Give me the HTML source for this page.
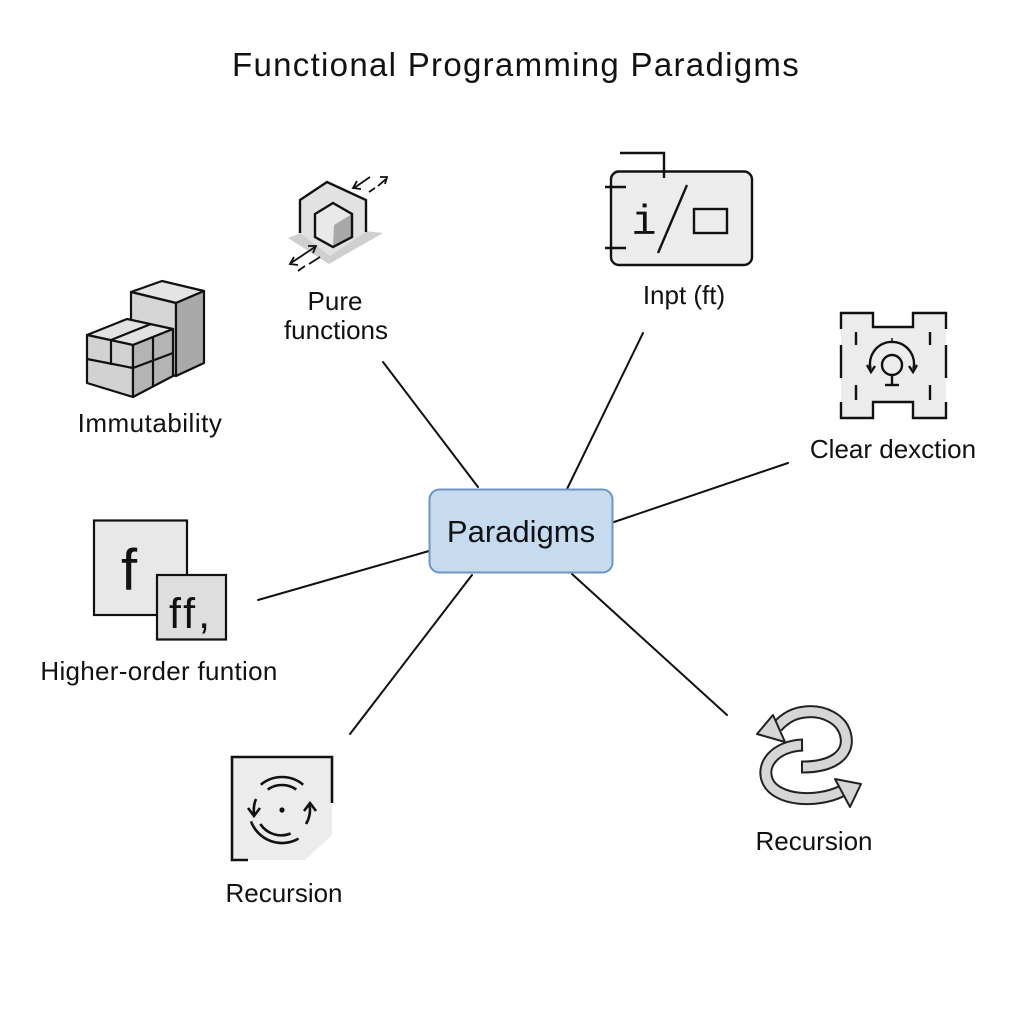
<!DOCTYPE html>
<html>
<head>
<meta charset="utf-8">
<style>
  html, body { margin:0; padding:0; background:#ffffff; }
  body { width:1024px; height:1024px; overflow:hidden; }
  svg { display:block; }
  text { font-family: "Liberation Sans", "DejaVu Sans", sans-serif; fill:#111; font-variant-ligatures: none; font-feature-settings: "liga" 0; }
</style>
</head>
<body>
<svg width="1024" height="1024" viewBox="0 0 1024 1024" xmlns="http://www.w3.org/2000/svg">
  <rect x="0" y="0" width="1024" height="1024" fill="#ffffff"/>

  <!-- Title -->
  <text x="516" y="76" font-size="33" text-anchor="middle" letter-spacing="1.3">Functional Programming Paradigms</text>

  <!-- Connectors -->
  <g stroke="#111" stroke-width="2" fill="none" stroke-linecap="round">
    <line x1="383" y1="362" x2="478" y2="487"/>
    <line x1="643" y1="333" x2="567" y2="489"/>
    <line x1="788" y1="463" x2="614" y2="522"/>
    <line x1="258" y1="600" x2="429" y2="551"/>
    <line x1="350" y1="734" x2="472" y2="575"/>
    <line x1="727" y1="715" x2="572" y2="574"/>
  </g>

  <!-- Central node -->
  <rect x="429.5" y="489.5" width="183" height="83" rx="10" ry="10" fill="#c6dbf0" stroke="#6f96c3" stroke-width="2"/>
  <text x="521" y="542" font-size="31" text-anchor="middle">Paradigms</text>

  <!-- Immutability icon -->
  <g stroke="#111" stroke-width="2.2" stroke-linejoin="round">
    <polygon points="131,292 162,281 204,291 176,303" fill="#e4e4e4"/>
    <polygon points="131,292 176,303 176,376 131,365" fill="#d6d6d6"/>
    <polygon points="176,303 204,291 204,363 176,376" fill="#a9a9a9"/>
    <polygon points="87,335 127,319 173,329 133,345" fill="#e2e2e2"/>
    <polygon points="87,335 133,345 133,397 87,383" fill="#d2d2d2"/>
    <polygon points="133,345 173,329 173,376 133,397" fill="#b4b4b4"/>
    <line x1="111" y1="340" x2="151" y2="324" fill="none"/>
    <line x1="111" y1="340" x2="111" y2="365" fill="none"/>
    <line x1="87" y1="359" x2="133" y2="368" fill="none"/>
    <line x1="133" y1="368" x2="173" y2="353" fill="none"/>
    <line x1="153" y1="337" x2="153" y2="387" fill="none"/>
  </g>
  <text x="150" y="432" font-size="26" text-anchor="middle" letter-spacing="0.5">Immutability</text>

  <!-- Pure functions icon -->
  <g>
    <polygon points="288,238 318,226 383,233 329,264" fill="#cfcfcf"/>
    <polygon points="300,233 300,200 327,182 366,200 366,232 330,256" fill="#e2e2e2"/>
    <polyline points="300,233 300,200 327,182 366,200 366,232" fill="none" stroke="#111" stroke-width="2.4" stroke-linejoin="miter"/>
    <polygon points="333,203 352,214 352,237 333,247 315,237 315,214" fill="#e9e9e9"/>
    <polygon points="334,225 352,214 352,237 333,247" fill="#a9a9a9"/>
    <polygon points="333,203 352,214 352,237 333,247 315,237 315,214" fill="none" stroke="#111" stroke-width="2.4"/>
    <g stroke="#111" stroke-width="1.8" fill="none">
      <line x1="354" y1="188" x2="370" y2="177"/>
      <polyline points="357,181 353,188 361,189"/>
      <line x1="369" y1="192" x2="375" y2="188"/>
      <line x1="378" y1="186" x2="386" y2="179"/>
      <polyline points="380,177 387,177 385,184"/>
      <line x1="291" y1="263" x2="315" y2="247"/>
      <polyline points="294,257 290,264 298,265"/>
      <polyline points="308,246 316,246 313,253"/>
      <line x1="298" y1="271" x2="305" y2="266"/>
      <line x1="309" y1="264" x2="320" y2="257"/>
    </g>
  </g>
  <text x="335" y="310" font-size="26" text-anchor="middle">Pure</text>
  <text x="336" y="339" font-size="26" text-anchor="middle">functions</text>

  <!-- Inpt icon -->
  <g stroke="#111" stroke-width="2.4" fill="none">
    <rect x="611" y="171.5" width="141" height="93.5" rx="8" ry="8" fill="#ececec"/>
    <polyline points="620,153 664,153 664,178"/>
    <line x1="605" y1="187" x2="626" y2="187"/>
    <line x1="605" y1="248" x2="626" y2="248"/>
    <line x1="687" y1="185" x2="658" y2="253"/>
    <rect x="694" y="209" width="33" height="24" fill="none"/>
  </g>
  <text x="644" y="234" font-size="42" text-anchor="middle" style="font-family:'Liberation Mono', monospace;">i</text>
  <text x="684" y="304" font-size="26" text-anchor="middle">Inpt (ft)</text>

  <!-- Clear dexction icon -->
  <g>
    <polygon points="841,313 873,313 873,327 913,327 913,313 946,313 946,418 913,418 913,402 873,402 873,418 841,418" fill="#ececec"/>
    <g stroke="#111" stroke-width="2.4" fill="none">
      <polyline points="841,329 841,313 873,313 873,327 913,327 913,313 946,313 946,329"/>
      <line x1="856" y1="332" x2="856" y2="345"/>
      <line x1="930" y1="332" x2="930" y2="345"/>
      <polyline points="841,345 841,378"/>
      <polyline points="946,345 946,378"/>
      <line x1="856" y1="385" x2="856" y2="400"/>
      <line x1="930" y1="385" x2="930" y2="400"/>
      <polyline points="841,402 841,418 873,418 873,402 913,402 913,418 946,418 946,402"/>
      <circle cx="892" cy="365" r="10"/>
      <line x1="892" y1="375" x2="892" y2="385"/>
      <line x1="885" y1="385" x2="899" y2="385"/>
      <path d="M 870.6,369 A 22 22 0 1 1 913.4,369"/>
      <polyline points="867,365 871,372 875,366"/>
      <polyline points="909,366 913,372 917,365"/>
      <line x1="892" y1="338" x2="892" y2="342" stroke-width="1.5"/>
    </g>
  </g>
  <text x="893" y="458" font-size="26" text-anchor="middle">Clear dexction</text>

  <!-- Higher-order icon -->
  <g stroke="#111" stroke-width="2.2">
    <rect x="94" y="520.5" width="93" height="94.5" fill="#e8e8e8"/>
    <rect x="157" y="575" width="69" height="64.5" fill="#dedede"/>
  </g>
  <text x="129" y="590" font-size="58" text-anchor="middle">f</text>
  <text x="191" y="628" font-size="43" text-anchor="middle" letter-spacing="3">f<tspan>f</tspan>,</text>
  <text x="159" y="680" font-size="26" text-anchor="middle" letter-spacing="0.3">Higher-order funtion</text>

  <!-- Recursion left icon -->
  <g>
    <polygon points="232,757 332,757 332,835 305,860 232,860" fill="#ececec"/>
    <g stroke="#111" stroke-width="2.6" fill="none">
      <polyline points="332,803 332,757 232,757 232,860 248,860"/>
      <path d="M 260.8,784.7 A 33 33 0 0 1 303.2,784.7"/>
      <path d="M 267.7,789.5 A 25 25 0 0 1 296.3,789.5"/>
      <path d="M 256,799 A 28 28 0 0 0 254.1,814"/>
      <polyline points="248,808 254,816 260,808"/>
      <path d="M 306,824 A 28 28 0 0 0 309.6,805"/>
      <polyline points="304,811 310,803 316,811"/>
      <path d="M 251,821.3 A 33 33 0 0 0 298.5,838.6"/>
      <path d="M 260.3,824 A 25 25 0 0 0 290.6,833.5"/>
    </g>
    <circle cx="282" cy="810" r="2.6" fill="#111"/>
  </g>
  <text x="284" y="902" font-size="26" text-anchor="middle">Recursion</text>

  <!-- Recursion right icon -->
  <g fill="none" stroke-linecap="butt">
    <path d="M 803,767 C 832,767 849,755 846,737 C 843,718 822,710 805,712 C 793,713 784,719 777,727" stroke="#222" stroke-width="13"/>
    <path d="M 803,767 C 832,767 849,755 846,737 C 843,718 822,710 805,712 C 793,713 784,719 777,727" stroke="#d6d6d6" stroke-width="9"/>
    <line x1="802" y1="760.5" x2="802" y2="773.5" stroke="#222" stroke-width="2"/>
    <polygon points="757,734 773,715 785,742" fill="#d6d6d6" stroke="#222" stroke-width="2" stroke-linejoin="round"/>

    <path d="M 803,745 C 775,746 760,765 768,782 C 777,800 815,804 842,791" stroke="#222" stroke-width="13"/>
    <path d="M 803,745 C 775,746 760,765 768,782 C 777,800 815,804 842,791" stroke="#d6d6d6" stroke-width="9"/>
    <line x1="802" y1="738.5" x2="802" y2="751.5" stroke="#222" stroke-width="2"/>
    <polygon points="861,784 835,779 850,807" fill="#d6d6d6" stroke="#222" stroke-width="2" stroke-linejoin="round"/>
  </g>
  <text x="814" y="850" font-size="26" text-anchor="middle">Recursion</text>
</svg>
</body>
</html>
